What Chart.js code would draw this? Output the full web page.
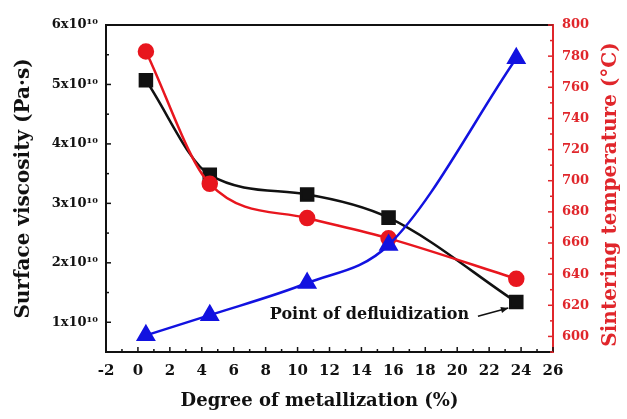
<!DOCTYPE html>
<html>
<head>
<meta charset="utf-8">
<script src="https://cdn.jsdelivr.net/npm/chart.js@4/dist/chart.umd.min.js"></script>
<style>
  html, body { margin: 0; padding: 0; background: #fff; }
  #wrap { width: 627px; height: 419px; }
</style>
</head>
<body>
<div id="wrap"><canvas id="chart"></canvas></div>
<script>
// Data
const metallization = [0.5, 4.5, 10.6, 15.7, 23.7];
const viscosity = [5.07e10, 3.48e10, 3.15e10, 2.76e10, 1.34e10];
const sinterTemp = [783, 698, 676, 663, 637];
const defluidTrend = [0.78e10, 1.12e10, 1.66e10, 2.3e10, 5.44e10];

const xTicks = [-2, 0, 2, 4, 6, 8, 10, 12, 14, 16, 18, 20, 22, 24, 26];
const leftTicks = [1e10, 2e10, 3e10, 4e10, 5e10, 6e10];
const rightTicks = [600, 620, 640, 660, 680, 700, 720, 740, 760, 780, 800];

// annotation: label position and arrow (data coords, left axis)
const noteText = 'Point of defluidization';
const notePos = [14.5, 1.12e10];
const arrowFrom = [21.3, 1.1e10];
const arrowTo = [23.2, 1.24e10];

const xTitle = 'Degree of metallization (%)';
const rightTitle = 'Sintering temperature (\u00B0C)';

const colors = {
  black: '#111111',
  red: '#e8161e',
  blue: '#1212e0',
  redAxis: '#e0262b',
};

const FONT = 'DejaVu Serif';

const pts = ys => metallization.map((x, i) => ({ x, y: ys[i] }));

// Frame: top border, inward ticks, titles and the annotation
const framePlugin = {
  id: 'frame',
  afterDraw(chart) {
    const { ctx, chartArea: a, scales } = chart;
    const xs = scales.x, yl = scales.y, yr = scales.y2;
    ctx.save();
    ctx.lineWidth = 2;
    ctx.strokeStyle = colors.black;
    ctx.beginPath();
    ctx.moveTo(a.left - 1, a.top);
    ctx.lineTo(a.right, a.top);
    ctx.stroke();

    ctx.lineWidth = 1.5;
    // x ticks
    for (let v = xs.min; v <= xs.max; v++) {
      const px = xs.getPixelForValue(v);
      const len = v % 2 === 0 ? 5 : 3;
      ctx.beginPath();
      ctx.moveTo(px, a.bottom);
      ctx.lineTo(px, a.bottom - len);
      ctx.stroke();
    }
    // left ticks
    for (let v = 0.5e10; v <= 6e10 + 1; v += 0.5e10) {
      const py = yl.getPixelForValue(v);
      const len = Math.round(v / 1e10 * 2) % 2 === 0 ? 5 : 3;
      ctx.beginPath();
      ctx.moveTo(a.left, py);
      ctx.lineTo(a.left + len, py);
      ctx.stroke();
    }
    // right ticks
    ctx.strokeStyle = colors.redAxis;
    for (let v = 590; v <= 800; v += 10) {
      const py = yr.getPixelForValue(v);
      const len = v % 20 === 0 ? 5 : 3;
      ctx.beginPath();
      ctx.moveTo(a.right, py);
      ctx.lineTo(a.right - len, py);
      ctx.stroke();
    }

    // axis titles
    ctx.textAlign = 'center';
    ctx.textBaseline = 'middle';
    ctx.fillStyle = colors.black;
    ctx.font = 'bold 18px "' + FONT + '"';
    ctx.fillText(xTitle, (a.left + a.right) / 2 - 10, 401);

    ctx.fillStyle = colors.redAxis;
    ctx.font = 'bold 20px "' + FONT + '"';
    ctx.save();
    ctx.translate(611, (a.top + a.bottom) / 2 + 6);
    ctx.rotate(-Math.PI / 2);
    ctx.fillText(rightTitle, 0, 0);
    ctx.restore();

    // annotation
    ctx.fillStyle = colors.black;
    ctx.font = 'bold 16px "' + FONT + '"';
    ctx.fillText(noteText, xs.getPixelForValue(notePos[0]), yl.getPixelForValue(notePos[1]));

    const x1 = xs.getPixelForValue(arrowFrom[0]), y1 = yl.getPixelForValue(arrowFrom[1]);
    const x2 = xs.getPixelForValue(arrowTo[0]), y2 = yl.getPixelForValue(arrowTo[1]);
    ctx.strokeStyle = colors.black;
    ctx.lineWidth = 1.5;
    ctx.beginPath();
    ctx.moveTo(x1, y1);
    ctx.lineTo(x2, y2);
    ctx.stroke();
    const ang = Math.atan2(y2 - y1, x2 - x1);
    ctx.beginPath();
    ctx.moveTo(x2, y2);
    ctx.lineTo(x2 - 8 * Math.cos(ang - 0.4), y2 - 8 * Math.sin(ang - 0.4));
    ctx.lineTo(x2 - 8 * Math.cos(ang + 0.4), y2 - 8 * Math.sin(ang + 0.4));
    ctx.closePath();
    ctx.fill();
    ctx.restore();
  },
};

const lineStyle = { borderWidth: 2.5, cubicInterpolationMode: 'monotone' };

new Chart(document.getElementById('chart'), {
  type: 'line',
  data: {
    datasets: [
      {
        ...lineStyle,
        data: pts(defluidTrend),
        yAxisID: 'y',
        borderColor: colors.blue,
        backgroundColor: colors.blue,
        pointStyle: 'triangle',
        pointRadius: 9,
      },
      {
        ...lineStyle,
        data: pts(sinterTemp),
        yAxisID: 'y2',
        borderColor: colors.red,
        backgroundColor: colors.red,
        pointStyle: 'circle',
        pointRadius: 7,
      },
      {
        ...lineStyle,
        data: pts(viscosity),
        yAxisID: 'y',
        borderColor: colors.black,
        backgroundColor: colors.black,
        pointStyle: 'rect',
        pointRadius: 8.5,
      },
    ],
  },
  options: {
    responsive: true,
    maintainAspectRatio: false,
    animation: false,
    layout: { padding: { top: 25, left: 0, right: 0, bottom: 0 } },
    plugins: { legend: { display: false }, tooltip: { enabled: false } },
    scales: {
      x: {
        type: 'linear',
        min: -2,
        max: 26,
        afterBuildTicks: s => { s.ticks = xTicks.map(value => ({ value })); },
        afterFit: s => { s.height = 67; },
        grid: { display: false, drawTicks: false },
        border: { color: colors.black, width: 2 },
        ticks: {
          autoSkip: false,
          maxRotation: 0,
          padding: 10,
          color: colors.black,
          font: { family: FONT, weight: 'bold', size: 15 },
        },
      },
      y: {
        position: 'left',
        min: 0.5e10,
        max: 6e10,
        afterBuildTicks: s => { s.ticks = leftTicks.map(value => ({ value })); },
        afterFit: s => { s.width = 106; },
        grid: { display: false, drawTicks: false },
        border: { color: colors.black, width: 2 },
        ticks: {
          padding: 8,
          color: colors.black,
          font: { family: FONT, weight: 'bold', size: 13 },
          callback: v => Math.round(v / 1e10) + 'x10\u00B9\u2070',
        },
        title: {
          display: true,
          text: 'Surface viscosity (Pa\u00B7s)',
          color: colors.black,
          font: { family: FONT, weight: 'bold', size: 20 },
          padding: { top: 12, bottom: 0 },
        },
      },
      y2: {
        position: 'right',
        min: 590,
        max: 800,
        afterBuildTicks: s => { s.ticks = rightTicks.map(value => ({ value })); },
        afterFit: s => { s.width = 74; },
        grid: { display: false, drawTicks: false },
        border: { color: colors.redAxis, width: 2 },
        ticks: {
          padding: 9,
          color: colors.redAxis,
          font: { family: FONT, weight: 'bold', size: 13 },
        },
      },
    },
  },
  plugins: [framePlugin],
});
</script>
</body>
</html>
